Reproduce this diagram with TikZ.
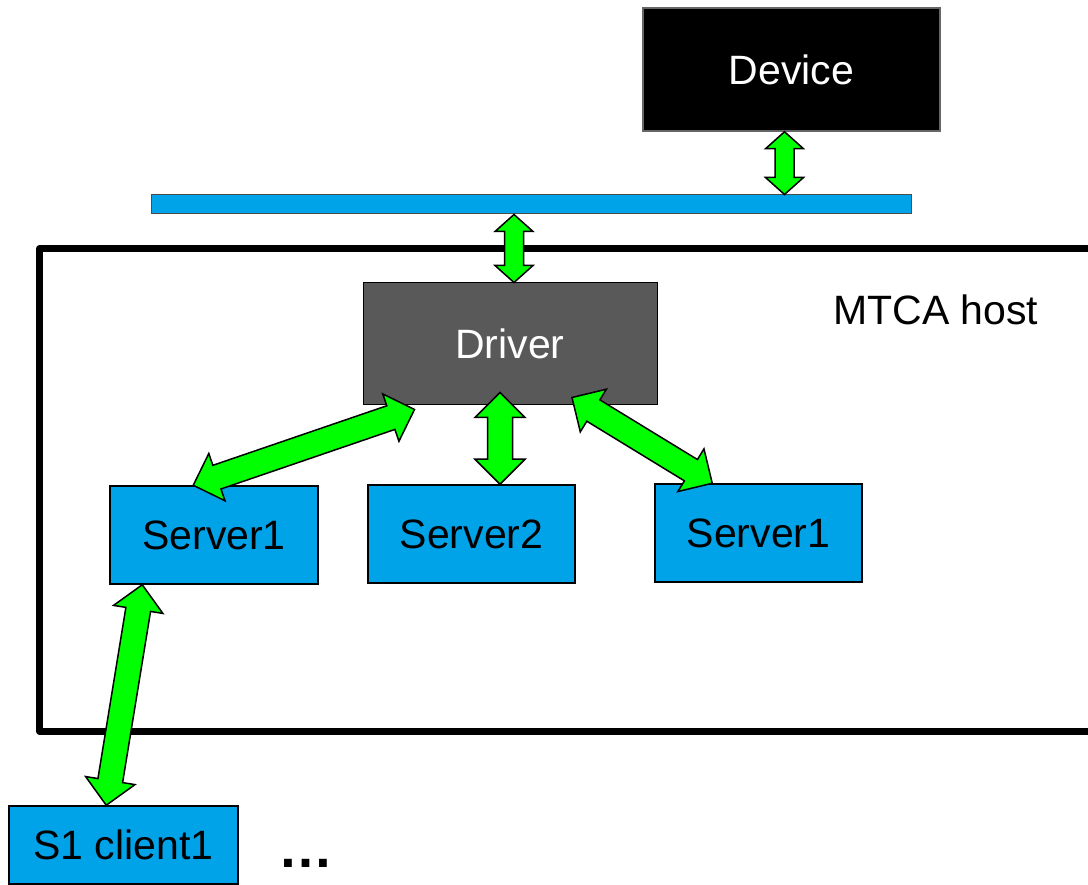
\documentclass[tikz,border=0pt]{standalone}
\usepackage{fontspec}
\setmainfont{Liberation Sans}
\usetikzlibrary{calc}
\definecolor{hostblue}{RGB}{0,162,232}
\definecolor{drivergray}{RGB}{89,89,89}
\definecolor{arrowgreen}{RGB}{0,255,0}
\tikzset{
  unit/.style={draw=black, line width=1.5pt, fill=hostblue, inner sep=0pt,
    font=\fontsize{41}{49}\selectfont},
  fatarrow/.style n args={3}{draw=black, line width=1.5pt, fill=arrowgreen,
    to path={
      -- ($(\tikztostart)!#3!(\tikztotarget)!#2!90:(\tikztotarget)$)
      -- ($(\tikztostart)!#3!(\tikztotarget)!#1!90:(\tikztotarget)$)
      -- ($(\tikztotarget)!#3!(\tikztostart)!#1!-90:(\tikztostart)$)
      -- ($(\tikztotarget)!#3!(\tikztostart)!#2!-90:(\tikztostart)$)
      -- (\tikztotarget)
      -- ($(\tikztotarget)!#3!(\tikztostart)!#2!90:(\tikztostart)$)
      -- ($(\tikztotarget)!#3!(\tikztostart)!#1!90:(\tikztostart)$)
      -- ($(\tikztostart)!#3!(\tikztotarget)!#1!-90:(\tikztotarget)$)
      -- ($(\tikztostart)!#3!(\tikztotarget)!#2!-90:(\tikztotarget)$)
      -- cycle}},
  bigarrow/.style={fatarrow={12.5pt}{25pt}{25pt}},
  smallarrow/.style={fatarrow={9.5pt}{19pt}{17pt}}
}
\begin{document}
\begin{tikzpicture}[x=1pt,y=-1pt]
  \useasboundingbox (0,0) rectangle (1088,885);
  \draw[line width=6.5pt, line join=round]
    (1100,248.5) -- (39.5,248.5) -- (39.5,731.5) -- (1100,731.5);
  \draw
    (791.5,69.5) node[unit, fill=black, draw=black!60, text=white,
      minimum width=297pt, minimum height=123pt] (dev) {Device}
    (531,204.5) node[unit, draw=black!70, line width=1pt,
      minimum width=760pt, minimum height=19pt] (bus) {}
    (510,344) node[unit, fill=drivergray, line width=1pt, text=white,
      minimum width=294pt, minimum height=122pt] (drv) {Driver}
    (214,535) node[unit, minimum width=208pt, minimum height=98pt] (s1) {Server1}
    (471.5,534) node[unit, minimum width=207pt, minimum height=98pt] (s2) {Server2}
    (758.5,533) node[unit, minimum width=207pt, minimum height=98pt] (s3) {Server1}
    (123.5,845) node[unit, minimum width=229pt, minimum height=78pt] (cl) {S1 client1}
    (833,325) node[anchor=base west, inner sep=0pt,
      font=\fontsize{41}{49}\selectfont] (host) {MTCA host}
    (278,867) node[anchor=base west, inner sep=0pt,
      font=\fontsize{55}{64}\selectfont\bfseries] (more) {…};
  \coordinate (d1) at ([xshift=-7pt]dev.south);
  \coordinate (d2) at (d1 |- bus.north);
  \coordinate (b1) at ([xshift=4pt]drv.north |- bus.south);
  \coordinate (b2) at ([xshift=4pt]drv.north);
  \coordinate (l1) at ([xshift=52pt,yshift=-4pt]drv.south west);
  \coordinate (l2) at ([xshift=84pt]s1.north west);
  \coordinate (m1) at ([xshift=-10pt,yshift=13pt]drv.south);
  \coordinate (m2) at ([xshift=28.5pt]s2.north);
  \coordinate (r1) at ([xshift=62pt,yshift=8pt]drv.south);
  \coordinate (r2) at ([xshift=58pt]s3.north west);
  \coordinate (c1) at ([xshift=33pt]s1.south west);
  \coordinate (c2) at ([xshift=98pt]cl.north west);
  \begin{scope}
    \draw[smallarrow] (d1) to (d2);
    \draw[smallarrow] (b1) to (b2);
    \draw[bigarrow] (l1) to (l2);
    \draw[bigarrow] (m1) to (m2);
    \draw[bigarrow] (r1) to (r2);
    \draw[bigarrow] (c1) to (c2);
  \end{scope}
\end{tikzpicture}
\end{document}
